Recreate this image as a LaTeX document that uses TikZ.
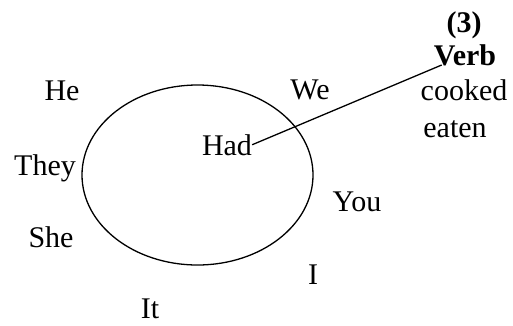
\documentclass[tikz,border=0pt]{standalone}
\usepackage{fontspec}
\setmainfont{Liberation Serif}
\usepackage{tikz}
\usetikzlibrary{positioning,calc}

\begin{document}
\begin{tikzpicture}[
  x=1pt,y=-1pt,
  word/.style={anchor=base,inner sep=0pt,font=\fontsize{30}{34}\selectfont},
  head/.style={word,font=\fontsize{30}{34}\selectfont\bfseries},
  link/.style={line width=1.3pt,draw=black}
]
\useasboundingbox (0,0) rectangle (513,325);
% verb circle
\draw[link] (197.5,175) ellipse [x radius=115.5pt,y radius=90pt];
% pronouns round the circle
\node[word] (he) at (62,100) {He};
\node[word] (we) at (310,99) {We};
\node[word] (they) at (45,175) {They};
\node[word] (she) at (51,247) {She};
\node[word] (you) at (357,211) {You};
\node[word] (i) at (313,284) {I};
\node[word] (it) at (150,318) {It};
% helper verb inside
\node[word] (had) at (227,155) {Had};
% third form
\node[head] (num) at (464,32) {(3)};
\node[head] (verb) at (465,65) {Verb};
\node[word] (cooked) at (464,100) {cooked};
\node[word] (eaten) at (455,137) {eaten};
\draw[link] (had.east) -- ([xshift=8pt]verb.base west);
\end{tikzpicture}
\end{document}
